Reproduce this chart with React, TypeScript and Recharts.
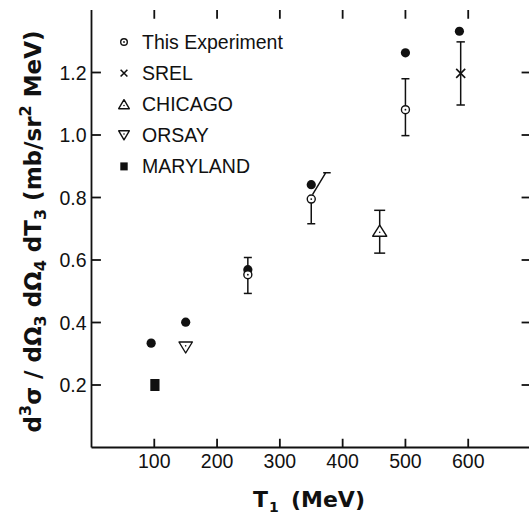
import React from 'react';
import { ScatterChart, Scatter, XAxis, YAxis, ErrorBar, Legend, Label, ReferenceLine } from 'recharts';

const INK = '#111';
const TICK_FONT = '"Liberation Sans", Arial, sans-serif';
const TITLE_FONT = '"DejaVu Sans", sans-serif';

const xTicks = [100, 200, 300, 400, 500, 600];
const yTicks = [0.2, 0.4, 0.6, 0.8, 1.0, 1.2];
const X_MAX = 700;
const Y_MAX = 1.4;

// filled circles (calculation, not in legend)
const calcT = [95, 150, 249, 350, 500, 586];
const calcVal = [0.334, 0.401, 0.569, 0.841, 1.263, 1.332];

// this experiment
const expT = [249, 350, 500];
const expVal = [0.553, 0.795, 1.081];
const expLow = [0.06, 0.079, 0.083];
const expHigh = [0.055, 0, 0.099];

// slanted upper bar on the 350 MeV point
const slantT = [352, 373, 369, 381];
const slantVal = [0.809, 0.879, 0.879, 0.879];

const srelT = [588];
const srelVal = [1.197];
const srelErr = [0.101];

const chicagoT = [459];
const chicagoVal = [0.694];
const chicagoLow = [0.072];
const chicagoHigh = [0.065];

const orsayT = [150];
const orsayVal = [0.32];

const marylandT = [101];
const marylandVal = [0.2];

const legendNames = ['This Experiment', 'SREL', 'CHICAGO', 'ORSAY', 'MARYLAND'];

const zip = (ts: number[], vs: number[], lo?: number[], hi?: number[]) =>
  ts.map((t, i) => ({ t, v: vs[i], err: lo ? [lo[i], (hi || lo)[i]] : undefined }));

const calcData = zip(calcT, calcVal);
const expData = zip(expT, expVal, expLow, expHigh);
const slantData = zip(slantT, slantVal);
const srelData = zip(srelT, srelVal, srelErr);
const chicagoData = zip(chicagoT, chicagoVal, chicagoLow, chicagoHigh);
const orsayData = zip(orsayT, orsayVal);
const marylandData = zip(marylandT, marylandVal);

// inward frame ticks, lengths in data units (~9px)
const TICK_DY = 0.028;
const TICK_DX = 15;

// marker shapes
const FilledDot = ({ cx, cy }: any) => <circle cx={cx} cy={cy} r={4.6} fill={INK} />;
const RingDot = ({ cx, cy, r = 4 }: any) => (
  <g>
    <circle cx={cx} cy={cy} r={r} fill="#fff" stroke={INK} strokeWidth={1.4} />
    <circle cx={cx} cy={cy} r={0.9} fill={INK} />
  </g>
);
const TriUp = ({ cx, cy, w = 7, h = 5.6 }: any) => (
  <g>
    <polygon points={`${cx},${cy - h} ${cx - w},${cy + h} ${cx + w},${cy + h}`} fill="#fff" stroke={INK} strokeWidth={1.4} strokeLinejoin="round" />
    <circle cx={cx} cy={cy + h * 0.3} r={0.8} fill={INK} />
  </g>
);
const TriDown = ({ cx, cy, w = 6.7, h = 5.5 }: any) => (
  <g>
    <polygon points={`${cx - w},${cy - h} ${cx + w},${cy - h} ${cx},${cy + h}`} fill="#fff" stroke={INK} strokeWidth={1.4} strokeLinejoin="round" />
    <circle cx={cx} cy={cy - h * 0.3} r={0.8} fill={INK} />
  </g>
);
const Cross = ({ cx, cy, s = 4.5 }: any) => (
  <g stroke={INK} strokeWidth={1.6}>
    <line x1={cx - s} y1={cy - s} x2={cx + s} y2={cy + s} />
    <line x1={cx - s} y1={cy + s} x2={cx + s} y2={cy - s} />
  </g>
);
const Square = ({ cx, cy, w = 4.6, h = 6 }: any) => (
  <rect x={cx - w} y={cy - h} width={w * 2} height={h * 2} fill={INK} />
);
const NoMark = () => <g />;

const LeftLabel = ({ x, y, payload }: any) => (
  <text x={x} y={y} dy="0.36em" textAnchor="end" fontSize={19.5} fontFamily={TICK_FONT} fill={INK}>
    {Number(payload.value).toFixed(1)}
  </text>
);
const BottomLabel = ({ x, y, payload }: any) => (
  <text x={x} y={y} textAnchor="middle" fontSize={19.5} fontFamily={TICK_FONT} fill={INK}>
    {payload.value}
  </text>
);

const YTitle = () => (
  <text
    x={41}
    y={231.5}
    transform="rotate(-90, 41, 231.5)"
    textAnchor="middle"
    fontFamily={TITLE_FONT}
    fontWeight="bold"
    fontSize={23}
    fill={INK}
  >
    d<tspan fontSize={16} dy={-10}>3</tspan>
    <tspan dy={10}>σ / dΩ</tspan>
    <tspan fontSize={16} dy={5}>3</tspan>
    <tspan dy={-5}> dΩ</tspan>
    <tspan fontSize={16} dy={5}>4</tspan>
    <tspan dy={-5}> dT</tspan>
    <tspan fontSize={16} dy={5}>3</tspan>
    <tspan dy={-5}> (mb/sr</tspan>
    <tspan fontSize={16} dy={-10}>2</tspan>
    <tspan dy={10}> MeV)</tspan>
  </text>
);

const XTitle = () => (
  <text y={507} fontFamily={TITLE_FONT} fontWeight="bold" fontSize={22} fill={INK}>
    <tspan x={253}>T</tspan>
    <tspan x={269} fontSize={14} dy={5}>1</tspan>
    <tspan x={291} dy={-5}>(MeV)</tspan>
  </text>
);

const legendIcons = [
  (cx: number, cy: number) => <RingDot cx={cx} cy={cy} r={3.3} />,
  (cx: number, cy: number) => <Cross cx={cx} cy={cy} s={3.4} />,
  (cx: number, cy: number) => <TriUp cx={cx} cy={cy} w={5.3} h={4.5} />,
  (cx: number, cy: number) => <TriDown cx={cx} cy={cy} w={5.3} h={4.5} />,
  (cx: number, cy: number) => <Square cx={cx} cy={cy} w={3.7} h={4} />,
];

const LegendBox = () => (
  <svg width={200} height={160} style={{ display: 'block' }}>
    {legendNames.map((name, i) => {
      const cy = 14 + i * 31.1;
      return (
        <g key={name}>
          {legendIcons[i](9, cy)}
          <text x={27} y={cy} dy="0.36em" fontSize={19.5} fontFamily={TICK_FONT} fill={INK}>
            {name}
          </text>
        </g>
      );
    })}
  </svg>
);

const axisLine = { stroke: INK, strokeWidth: 1.8 };

export default function App() {
  return (
    <div style={{ position: 'fixed', left: 0, top: 0, width: 529, height: 516, overflow: 'hidden', background: '#fff' }}>
      <ScatterChart width={540} height={516} margin={{ top: 10, right: 9, left: 0, bottom: 0 }}>
        <XAxis
          xAxisId="b"
          dataKey="t"
          type="number"
          domain={[0, X_MAX]}
          ticks={xTicks}
          height={68.5}
          tickSize={0}
          tickMargin={20}
          tickLine={false}
          tick={<BottomLabel />}
          axisLine={axisLine}
        >
          <Label content={<XTitle />} />
        </XAxis>
        <XAxis
          xAxisId="t"
          orientation="top"
          type="number"
          domain={[0, X_MAX]}
          height={0}
          tickLine={false}
          tick={false}
          axisLine={axisLine}
        />
        <YAxis
          yAxisId="l"
          dataKey="v"
          type="number"
          domain={[0, Y_MAX]}
          ticks={yTicks}
          width={91.5}
          tickSize={0}
          tickMargin={5}
          tickLine={false}
          tick={<LeftLabel />}
          axisLine={axisLine}
        >
          <Label content={<YTitle />} />
        </YAxis>
        <YAxis
          yAxisId="r"
          orientation="right"
          type="number"
          domain={[0, Y_MAX]}
          width={0}
          tickLine={false}
          tick={false}
          axisLine={axisLine}
        />
        <Legend
          layout="vertical"
          align="center"
          verticalAlign="middle"
          content={<LegendBox />}
          wrapperStyle={{ left: 115, top: 28, width: 200, height: 160 }}
        />

        {/* inward ticks on all four sides of the frame */}
        {xTicks.map((t) => (
          <ReferenceLine key={`b${t}`} xAxisId="b" yAxisId="l" segment={[{ x: t, y: 0 }, { x: t, y: TICK_DY }]} stroke={INK} strokeWidth={1.8} />
        ))}
        {xTicks.map((t) => (
          <ReferenceLine key={`t${t}`} xAxisId="b" yAxisId="l" segment={[{ x: t, y: Y_MAX }, { x: t, y: Y_MAX - TICK_DY }]} stroke={INK} strokeWidth={1.8} />
        ))}
        {yTicks.map((v) => (
          <ReferenceLine key={`l${v}`} xAxisId="b" yAxisId="l" segment={[{ x: 0, y: v }, { x: TICK_DX, y: v }]} stroke={INK} strokeWidth={1.8} />
        ))}
        {yTicks.map((v) => (
          <ReferenceLine key={`r${v}`} xAxisId="b" yAxisId="l" segment={[{ x: X_MAX, y: v }, { x: X_MAX - TICK_DX, y: v }]} stroke={INK} strokeWidth={1.8} />
        ))}

        {/* error bars first so the open markers sit on top of them */}
        <Scatter xAxisId="b" yAxisId="l" data={expData} dataKey="v" shape={<NoMark />} isAnimationActive={false} legendType="none">
          <ErrorBar dataKey="err" direction="y" width={4} stroke={INK} strokeWidth={1.5} />
        </Scatter>
        <Scatter xAxisId="b" yAxisId="l" data={srelData} dataKey="v" shape={<NoMark />} isAnimationActive={false} legendType="none">
          <ErrorBar dataKey="err" direction="y" width={4.2} stroke={INK} strokeWidth={1.5} />
        </Scatter>
        <Scatter xAxisId="b" yAxisId="l" data={chicagoData} dataKey="v" shape={<NoMark />} isAnimationActive={false} legendType="none">
          <ErrorBar dataKey="err" direction="y" width={5.5} stroke={INK} strokeWidth={1.5} />
        </Scatter>
        <Scatter
          xAxisId="b"
          yAxisId="l"
          data={slantData}
          dataKey="v"
          line={{ stroke: INK, strokeWidth: 1.5 }}
          lineType="joint"
          shape={<NoMark />}
          isAnimationActive={false}
          legendType="none"
        />

        <Scatter xAxisId="b" yAxisId="l" data={calcData} dataKey="v" shape={<FilledDot />} isAnimationActive={false} legendType="none" />
        <Scatter xAxisId="b" yAxisId="l" data={expData} dataKey="v" shape={<RingDot />} isAnimationActive={false} name="This Experiment" />
        <Scatter xAxisId="b" yAxisId="l" data={srelData} dataKey="v" shape={<Cross />} isAnimationActive={false} name="SREL" />
        <Scatter xAxisId="b" yAxisId="l" data={chicagoData} dataKey="v" shape={<TriUp />} isAnimationActive={false} name="CHICAGO" />
        <Scatter xAxisId="b" yAxisId="l" data={orsayData} dataKey="v" shape={<TriDown />} isAnimationActive={false} name="ORSAY" />
        <Scatter xAxisId="b" yAxisId="l" data={marylandData} dataKey="v" shape={<Square />} isAnimationActive={false} name="MARYLAND" />
      </ScatterChart>
    </div>
  );
}
